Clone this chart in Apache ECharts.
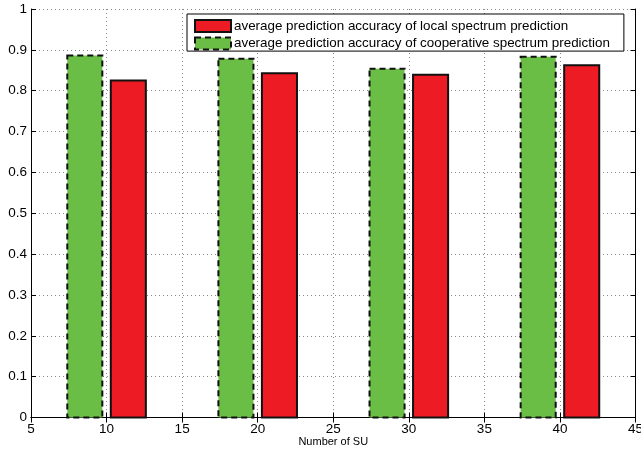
<!DOCTYPE html>
<html>
<head>
<meta charset="utf-8">
<script src="https://cdn.jsdelivr.net/npm/echarts@6/dist/echarts.min.js"></script>
<style>html,body{margin:0;padding:0;background:#fff;}#c{width:641px;height:449px;}</style>
</head>
<body>
<div id="c"></div>
<script>
const suNumbers = [10, 20, 30, 40];
const localAccuracy = [0.825, 0.843, 0.839, 0.862];
const coopAccuracy = [0.886, 0.878, 0.854, 0.883];
const xTicks = [5, 10, 15, 20, 25, 30, 35, 40, 45];
const yTicks = [0, 0.1, 0.2, 0.3, 0.4, 0.5, 0.6, 0.7, 0.8, 0.9, 1];
const localName = 'average prediction accuracy of local spectrum prediction';
const coopName = 'average prediction accuracy of cooperative spectrum prediction';

const RED = '#ed1c24';
const GREEN = '#6abd45';
const BAR_W = 2.32;
const OFFSET = 1.44;
const FONT = 'Liberation Sans, Arial, sans-serif';

function barRenderer(offset, fill, dash) {
  return function (params, api) {
    const x = api.value(0) + offset;
    const y = api.value(1);
    const p0 = api.coord([x - BAR_W / 2, y]);
    const p1 = api.coord([x + BAR_W / 2, 0]);
    return {
      type: 'rect',
      shape: { x: p0[0], y: p0[1], width: p1[0] - p0[0], height: p1[1] - p0[1] },
      style: { fill: fill, stroke: '#111', lineWidth: 2, lineDash: dash }
    };
  };
}

const chart = echarts.init(document.getElementById('c'), null, { renderer: 'canvas' });
const axisCommon = {
  type: 'value',
  axisLine: { show: true, lineStyle: { color: '#000', width: 1 } },
  axisTick: { show: true, inside: true, length: 5, lineStyle: { color: '#000' } },
};
chart.setOption({
  animation: false,
  backgroundColor: '#fff',
  grid: { left: 31, right: 5.5, top: 9, bottom: 31.5, containLabel: false, outerBoundsMode: 'none' },
  legend: {
    orient: 'vertical',
    left: 187,
    top: 14,
    padding: [5, 14, 0.5, 7],
    backgroundColor: '#fff',
    borderColor: '#000',
    borderWidth: 1,
    borderRadius: 0,
    itemWidth: 36,
    itemHeight: 12,
    itemGap: 3.6,
    textStyle: { fontFamily: FONT, fontSize: 13.4, color: '#000', lineHeight: 14, padding: [0, 0, 0, -2] },
    data: [
      { name: localName, icon: 'rect', itemStyle: { color: RED, borderColor: '#111', borderWidth: 2 } },
      { name: coopName, icon: 'rect', itemStyle: { color: GREEN, borderColor: '#111', borderWidth: 2, borderType: [6, 4] } }
    ]
  },
  xAxis: [
    Object.assign({}, axisCommon, {
      min: xTicks[0], max: xTicks[xTicks.length - 1], interval: 5,
      name: 'Number of SU', nameLocation: 'middle', nameGap: 18.5, nameMoveOverlap: false,
      nameTextStyle: { fontFamily: FONT, fontSize: 11, color: '#000' },
      axisLabel: { fontFamily: FONT, fontSize: 13.5, color: '#000', margin: 5 },
      splitLine: { show: true, lineStyle: { color: '#888', type: [1, 3], width: 1 } }
    }),
    Object.assign({}, axisCommon, {
      position: 'top', min: xTicks[0], max: xTicks[xTicks.length - 1], interval: 5,
      axisLabel: { show: false }, splitLine: { show: false }
    })
  ],
  yAxis: [
    Object.assign({}, axisCommon, {
      min: yTicks[0], max: yTicks[yTicks.length - 1], interval: 0.1,
      axisLabel: { fontFamily: FONT, fontSize: 13.5, color: '#000', margin: 4 },
      splitLine: { show: true, lineStyle: { color: '#888', type: [1, 3], width: 1 } }
    }),
    Object.assign({}, axisCommon, {
      position: 'right', min: yTicks[0], max: yTicks[yTicks.length - 1], interval: 0.1,
      axisLabel: { show: false }, splitLine: { show: false }
    })
  ],
  series: [
    {
      name: localName,
      type: 'custom',
      xAxisIndex: 0, yAxisIndex: 0,
      itemStyle: { color: RED },
      encode: { x: 0, y: 1 },
      data: suNumbers.map((x, i) => [x, localAccuracy[i]]),
      renderItem: barRenderer(OFFSET, RED, null),
      z: 3
    },
    {
      name: coopName,
      type: 'custom',
      xAxisIndex: 0, yAxisIndex: 0,
      itemStyle: { color: GREEN },
      encode: { x: 0, y: 1 },
      data: suNumbers.map((x, i) => [x, coopAccuracy[i]]),
      renderItem: barRenderer(-OFFSET, GREEN, [6, 4]),
      z: 3
    }
  ]
});
</script>
</body>
</html>
